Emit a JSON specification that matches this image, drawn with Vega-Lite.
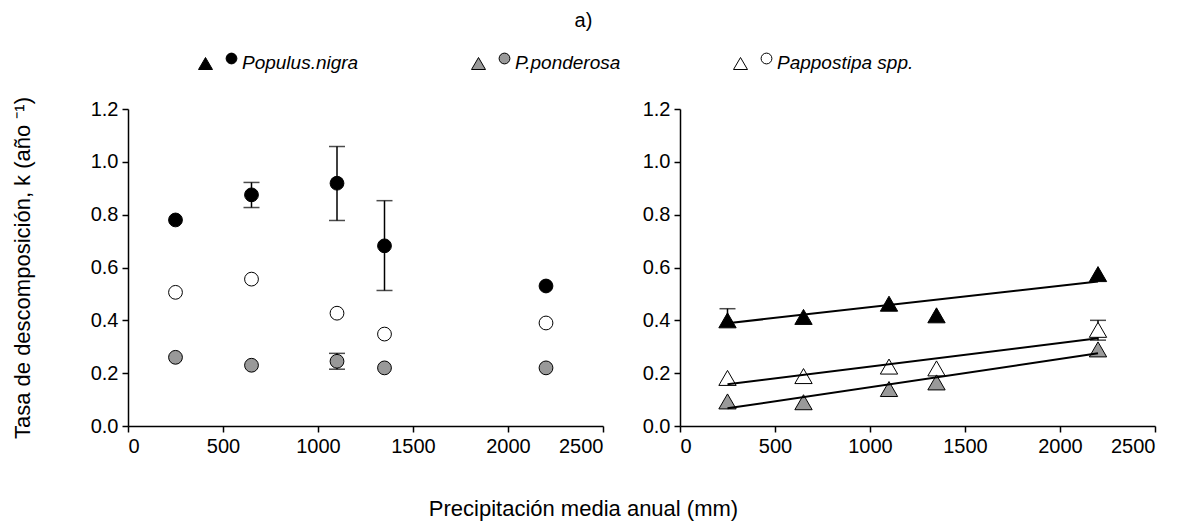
{
  "$schema": "https://vega.github.io/schema/vega-lite/v6.json",
  "background": "white",
  "padding": {"left": 11, "top": 11, "right": 5, "bottom": 5},
  "config": {
    "font": "Liberation Sans",
    "view": {"stroke": null},
    "axis": {
      "domainColor": "#000", "domainWidth": 1.5, "tickColor": "#000", "tickWidth": 1.5, "tickSize": 6,
      "labelFont": "Liberation Sans", "labelFontSize": 20, "labelColor": "#000", "grid": false,
      "titleFont": "Liberation Sans", "titleFontSize": 22, "titleFontWeight": "normal", "titleColor": "#000"
    },
    "title": {"font": "Liberation Sans", "fontSize": 20, "fontWeight": "normal", "color": "#000"}
  },
  "datasets": {
    "left": [
      {"species": "Populus.nigra", "precip": 250, "k": 0.78, "lo": null, "hi": null},
      {"species": "Populus.nigra", "precip": 650, "k": 0.875, "lo": 0.827, "hi": 0.922},
      {"species": "Populus.nigra", "precip": 1100, "k": 0.919, "lo": 0.778, "hi": 1.058},
      {"species": "Populus.nigra", "precip": 1350, "k": 0.682, "lo": 0.513, "hi": 0.853},
      {"species": "Populus.nigra", "precip": 2200, "k": 0.53, "lo": null, "hi": null},
      {"species": "Pappostipa spp.", "precip": 250, "k": 0.506, "lo": null, "hi": null},
      {"species": "Pappostipa spp.", "precip": 650, "k": 0.556, "lo": null, "hi": null},
      {"species": "Pappostipa spp.", "precip": 1100, "k": 0.427, "lo": null, "hi": null},
      {"species": "Pappostipa spp.", "precip": 1350, "k": 0.348, "lo": null, "hi": null},
      {"species": "Pappostipa spp.", "precip": 2200, "k": 0.39, "lo": null, "hi": null},
      {"species": "P.ponderosa", "precip": 250, "k": 0.26, "lo": null, "hi": null},
      {"species": "P.ponderosa", "precip": 650, "k": 0.23, "lo": null, "hi": null},
      {"species": "P.ponderosa", "precip": 1100, "k": 0.245, "lo": 0.215, "hi": 0.275},
      {"species": "P.ponderosa", "precip": 1350, "k": 0.22, "lo": null, "hi": null},
      {"species": "P.ponderosa", "precip": 2200, "k": 0.22, "lo": null, "hi": null}
    ],
    "right": [
      {"species": "Populus.nigra", "precip": 250, "k": 0.40, "lo": null, "hi": 0.444},
      {"species": "Populus.nigra", "precip": 650, "k": 0.413, "lo": null, "hi": null},
      {"species": "Populus.nigra", "precip": 1100, "k": 0.463, "lo": null, "hi": null},
      {"species": "Populus.nigra", "precip": 1350, "k": 0.419, "lo": null, "hi": null},
      {"species": "Populus.nigra", "precip": 2200, "k": 0.575, "lo": null, "hi": null},
      {"species": "Pappostipa spp.", "precip": 250, "k": 0.182, "lo": null, "hi": null},
      {"species": "Pappostipa spp.", "precip": 650, "k": 0.189, "lo": null, "hi": null},
      {"species": "Pappostipa spp.", "precip": 1100, "k": 0.225, "lo": null, "hi": null},
      {"species": "Pappostipa spp.", "precip": 1350, "k": 0.218, "lo": null, "hi": null},
      {"species": "Pappostipa spp.", "precip": 2200, "k": 0.364, "lo": 0.325, "hi": 0.40},
      {"species": "P.ponderosa", "precip": 250, "k": 0.093, "lo": null, "hi": null},
      {"species": "P.ponderosa", "precip": 650, "k": 0.09, "lo": null, "hi": null},
      {"species": "P.ponderosa", "precip": 1100, "k": 0.14, "lo": null, "hi": null},
      {"species": "P.ponderosa", "precip": 1350, "k": 0.165, "lo": null, "hi": null},
      {"species": "P.ponderosa", "precip": 2200, "k": 0.29, "lo": null, "hi": null}
    ],
    "fit": [
      {"species": "Populus.nigra", "precip": 250, "k": 0.389},
      {"species": "Populus.nigra", "precip": 2200, "k": 0.547},
      {"species": "Pappostipa spp.", "precip": 250, "k": 0.158},
      {"species": "Pappostipa spp.", "precip": 2200, "k": 0.332},
      {"species": "P.ponderosa", "precip": 250, "k": 0.067},
      {"species": "P.ponderosa", "precip": 2200, "k": 0.275}
    ]
  },
  "title": {"text": "a)", "anchor": "middle", "offset": 11},
  "vconcat": [
    {
      "title": {"text": "Precipitación media anual (mm)", "orient": "bottom", "anchor": "middle", "offset": 43, "fontSize": 22},
      "spacing": 38,
      "resolve": {"scale": {"fill": "shared"}, "legend": {"fill": "shared"}},
      "hconcat": [
        {
          "width": 475, "height": 317,
          "data": {"name": "left"},
          "encoding": {
            "x": {"field": "precip", "type": "quantitative", "title": null,
                  "scale": {"domain": [0, 2500], "nice": false},
                  "axis": {"values": [0, 500, 1000, 1500, 2000, 2500], "format": "d", "labelPadding": 4}}
          },
          "layer": [
            {
              "transform": [{"filter": "datum.lo != null"}],
              "mark": {"type": "rule", "color": "#000", "strokeWidth": 1.5},
              "encoding": {
                "y": {"field": "lo", "type": "quantitative", "scale": {"domain": [0, 1.2], "nice": false}, "title": "Tasa de descomposición, k (año ⁻¹)"},
                "y2": {"field": "hi"}
              }
            },
            {
              "transform": [{"filter": "datum.hi != null"}],
              "mark": {"type": "tick", "orient": "horizontal", "size": 16, "thickness": 1.5, "color": "#000"},
              "encoding": {
                "y": {"field": "hi", "type": "quantitative", "scale": {"domain": [0, 1.2], "nice": false}, "title": "Tasa de descomposición, k (año ⁻¹)"}
              }
            },
            {
              "transform": [{"filter": "datum.lo != null"}],
              "mark": {"type": "tick", "orient": "horizontal", "size": 16, "thickness": 1.5, "color": "#000"},
              "encoding": {
                "y": {"field": "lo", "type": "quantitative", "scale": {"domain": [0, 1.2], "nice": false}, "title": "Tasa de descomposición, k (año ⁻¹)"}
              }
            },
            {
              "mark": {"type": "point", "shape": "circle", "filled": true, "size": 190, "stroke": "#000", "strokeWidth": 1, "opacity": 1},
              "encoding": {
                "y": {"field": "k", "type": "quantitative", "scale": {"domain": [0, 1.2], "nice": false},
                      "title": "Tasa de descomposición, k (año ⁻¹)",
                      "axis": {"values": [0, 0.2, 0.4, 0.6, 0.8, 1.0, 1.2], "format": ".1f", "titlePadding": 56, "labelPadding": 4}},
                "fill": {"field": "species", "type": "nominal",
                         "scale": {"domain": ["Populus.nigra", "P.ponderosa", "Pappostipa spp."], "range": ["#000000", "#999999", "#ffffff"]},
                         "legend": {"title": null, "orient": "none", "legendX": 69, "legendY": -67, "direction": "horizontal",
                                    "symbolType": "M-0.6,-0.25L-0.25,0.35L-0.95,0.35Z M0.97,-0.2A0.27,0.27 0 1 1 0.43,-0.2A0.27,0.27 0 1 1 0.97,-0.2Z",
                                    "symbolSize": 1600, "symbolStrokeColor": "#000", "symbolStrokeWidth": 1,
                                    "labelFont": "Liberation Sans", "labelFontSize": 19, "labelFontStyle": "italic", "labelColor": "#000",
                                    "labelOffset": 4, "columnPadding": 110, "gridAlign": "none"}}
              }
            }
          ]
        },
        {
          "width": 475, "height": 317,
          "encoding": {
            "x": {"field": "precip", "type": "quantitative", "title": null,
                  "scale": {"domain": [0, 2500], "nice": false},
                  "axis": {"values": [0, 500, 1000, 1500, 2000, 2500], "format": "d", "labelPadding": 4}}
          },
          "layer": [
            {
              "data": {"name": "right"},
              "transform": [{"filter": "datum.lo != null"}],
              "mark": {"type": "rule", "color": "#000", "strokeWidth": 1.5},
              "encoding": {
                "y": {"field": "lo", "type": "quantitative", "scale": {"domain": [0, 1.2], "nice": false}, "title": null},
                "y2": {"field": "hi"}
              }
            },
            {
              "data": {"name": "right"},
              "transform": [{"filter": "datum.lo == null && datum.hi != null"}],
              "mark": {"type": "rule", "color": "#000", "strokeWidth": 1.5},
              "encoding": {
                "y": {"field": "k", "type": "quantitative", "scale": {"domain": [0, 1.2], "nice": false}, "title": null},
                "y2": {"field": "hi"}
              }
            },
            {
              "data": {"name": "right"},
              "transform": [{"filter": "datum.hi != null"}],
              "mark": {"type": "tick", "orient": "horizontal", "size": 16, "thickness": 1.5, "color": "#000"},
              "encoding": {
                "y": {"field": "hi", "type": "quantitative", "scale": {"domain": [0, 1.2], "nice": false}, "title": null}
              }
            },
            {
              "data": {"name": "right"},
              "transform": [{"filter": "datum.lo != null"}],
              "mark": {"type": "tick", "orient": "horizontal", "size": 16, "thickness": 1.5, "color": "#000"},
              "encoding": {
                "y": {"field": "lo", "type": "quantitative", "scale": {"domain": [0, 1.2], "nice": false}, "title": null}
              }
            },
            {
              "data": {"name": "right"},
              "mark": {"type": "point", "shape": "triangle-up", "filled": true, "size": 300, "stroke": "#000", "strokeWidth": 1, "opacity": 1},
              "encoding": {
                "y": {"field": "k", "type": "quantitative", "scale": {"domain": [0, 1.2], "nice": false}, "title": null,
                      "axis": {"values": [0, 0.2, 0.4, 0.6, 0.8, 1.0, 1.2], "format": ".1f", "labelPadding": 4}},
                "fill": {"field": "species", "type": "nominal",
                         "scale": {"domain": ["Populus.nigra", "P.ponderosa", "Pappostipa spp."], "range": ["#000000", "#999999", "#ffffff"]},
                         "legend": {"title": null, "orient": "none", "legendX": 69, "legendY": -67, "direction": "horizontal",
                                    "symbolType": "M-0.6,-0.25L-0.25,0.35L-0.95,0.35Z M0.97,-0.2A0.27,0.27 0 1 1 0.43,-0.2A0.27,0.27 0 1 1 0.97,-0.2Z",
                                    "symbolSize": 1600, "symbolStrokeColor": "#000", "symbolStrokeWidth": 1,
                                    "labelFont": "Liberation Sans", "labelFontSize": 19, "labelFontStyle": "italic", "labelColor": "#000",
                                    "labelOffset": 4, "columnPadding": 110, "gridAlign": "none"}}
              }
            },
            {
              "data": {"name": "fit"},
              "mark": {"type": "line", "color": "#000", "strokeWidth": 2},
              "encoding": {
                "y": {"field": "k", "type": "quantitative", "scale": {"domain": [0, 1.2], "nice": false}, "title": null},
                "detail": {"field": "species", "type": "nominal"}
              }
            }
          ]
        }
      ]
    }
  ]
}
